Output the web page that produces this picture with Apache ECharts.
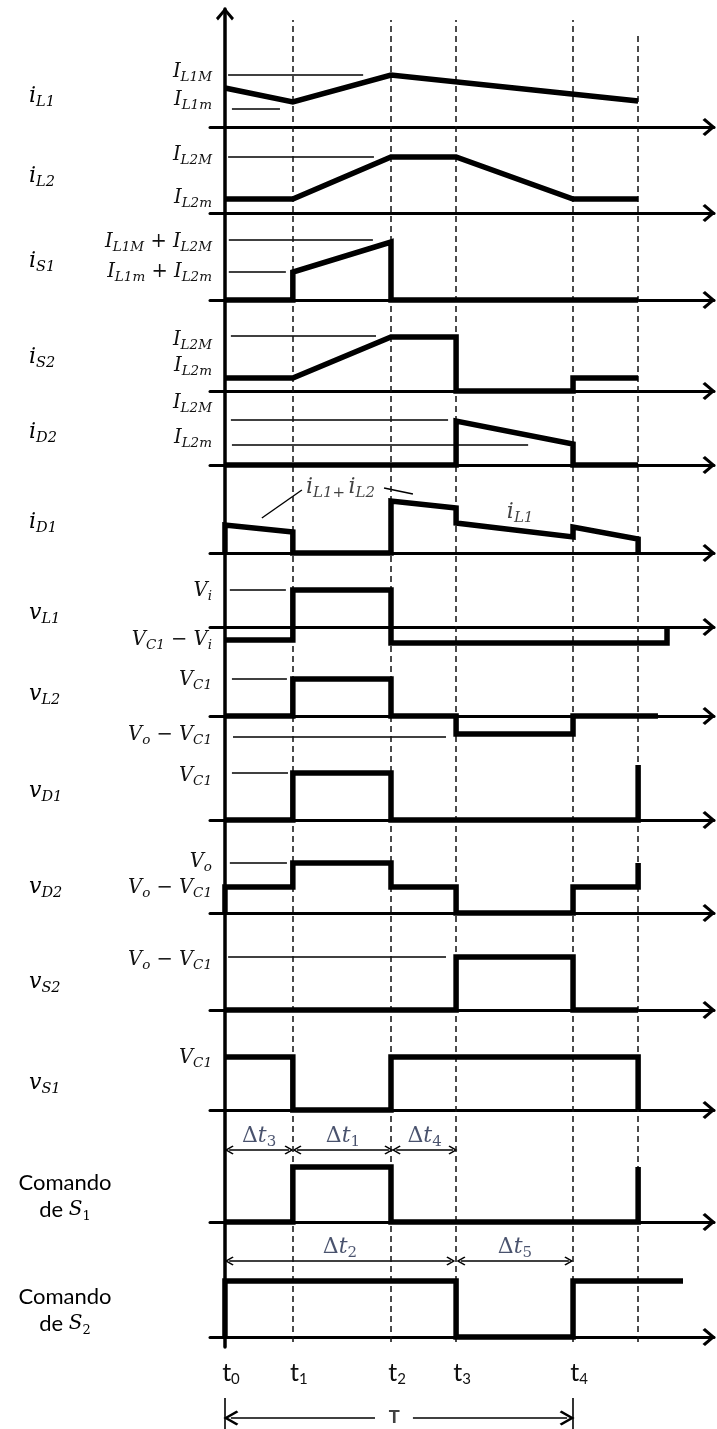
<!DOCTYPE html>
<html><head><meta charset="utf-8">
<script src="https://cdn.jsdelivr.net/npm/echarts@6/dist/echarts.min.js"></script>
<style>html,body{margin:0;padding:0;background:#fff}#c{width:717px;height:1429px}</style>
</head><body><div id="c"></div>
<script>
// ---------------- DATA ----------------
// time instants (arbitrary units, period T = t4 - t0 = 10)
const t0 = 0, t1 = 1.95, t2 = 4.77, t3 = 6.64, t4 = 10, t5 = 11.87;
const timeTicks = [t0, t1, t2, t3, t4];
const timeTickLabels = ['{t|t}{n|0}', '{t|t}{n|1}', '{t|t}{n|2}', '{t|t}{n|3}', '{t|t}{n|4}'];
const dashTimes = [t1, t2, t3, t4, t5];

// waveforms: [time, level]
const iL1 = [[t0, 39], [t1, 25], [t2, 52], [t5, 26]];
const iL2 = [[t0, 14], [t1, 14], [t2, 56], [t3, 56], [t4, 14], [t5, 14]];
const iS1 = [[t0, 0], [t1, 0], [t1, 28], [t2, 58], [t2, 0], [t5, 0]];
const iS2 = [[t0, 13], [t1, 13], [t2, 54], [t3, 54], [t3, 0], [t4, 0], [t4, 13], [t5, 13]];
const iD2 = [[t0, 0], [t3, 0], [t3, 44], [t4, 21], [t4, 0], [t5, 0]];
const iD1 = [[t0, 0], [t0, 28], [t1, 21], [t1, 0], [t2, 0], [t2, 52], [t3, 45], [t3, 30], [t4, 16], [t4, 26], [t5, 14], [t5, 0]];
const vL1 = [[t0, -13], [t1, -13], [t1, 37], [t2, 37], [t2, -16], [12.70, -16], [12.70, 0]];
const vL2 = [[t0, 0], [t1, 0], [t1, 37], [t2, 37], [t2, 0], [t3, 0], [t3, -18], [t4, -18], [t4, 0], [12.44, 0]];
const vD1 = [[t0, 0], [t1, 0], [t1, 47], [t2, 47], [t2, 0], [t5, 0], [t5, 55]];
const vD2 = [[t0, 0], [t0, 26], [t1, 26], [t1, 50], [t2, 50], [t2, 26], [t3, 26], [t3, 0], [t4, 0], [t4, 26], [t5, 26], [t5, 50]];
const vS2 = [[t0, 0], [t3, 0], [t3, 53], [t4, 53], [t4, 0], [t5, 0]];
const vS1 = [[t0, 53], [t1, 53], [t1, 0], [t2, 0], [t2, 53], [t5, 53], [t5, 0]];
const cmdS1 = [[t0, 0], [t1, 0], [t1, 55], [t2, 55], [t2, 0], [t5, 0], [t5, 55]];
const cmdS2 = [[t0, 0], [t0, 56], [t3, 56], [t3, 0], [t4, 0], [t4, 56], [13.16, 56]];

// reference level lines: [fromTime, toTime, level]
const iL1Refs = [[0.09, 3.97, 52], [0.2, 1.58, 18]];
const iL2Refs = [[0.09, 4.28, 56]];
const iS1Refs = [[0.11, 4.25, 60], [0.11, 1.75, 28]];
const iS2Refs = [[0.17, 4.34, 55]];
const iD2Refs = [[0.17, 6.41, 45], [0.2, 8.71, 20]];
const vL1Refs = [[0.14, 1.75, 37]];
const vL2Refs = [[0.2, 1.78, 37], [0.23, 6.35, -21]];
const vD1Refs = [[0.2, 1.81, 47]];
const vD2Refs = [[0.14, 1.78, 50]];
const vS2Refs = [[0.09, 6.35, 53]];

// level tick labels
const iL1Ticks = [55, 27], iL1TickText = ['{v|I}{s|L1M}', '{v|I}{s|L1m}'];
const iL2Ticks = [58, 15], iL2TickText = ['{v|I}{s|L2M}', '{v|I}{s|L2m}'];
const iS1Ticks = [58, 28], iS1TickText = ['{v|I}{s|L1M}{o| + }{v|I}{s|L2M}', '{v|I}{s|L1m}{o| + }{v|I}{s|L2m}'];
const iS2Ticks = [51, 25], iS2TickText = ['{v|I}{s|L2M}', '{v|I}{s|L2m}'];
const iD2Ticks = [62, 27], iD2TickText = ['{v|I}{s|L2M}', '{v|I}{s|L2m}'];
const vL1Ticks = [36, -13], vL1TickText = ['{v|V}{s|i}', '{v|V}{s|C1}{o| − }{v|V}{s|i}'];
const vL2Ticks = [36, -19], vL2TickText = ['{v|V}{s|C1}', '{v|V}{s|o}{o| − }{v|V}{s|C1}'];
const vD1Ticks = [44], vD1TickText = ['{v|V}{s|C1}'];
const vD2Ticks = [51, 25], vD2TickText = ['{v|V}{s|o}', '{v|V}{s|o}{o| − }{v|V}{s|C1}'];
const vS2Ticks = [50], vS2TickText = ['{v|V}{s|o}{o| − }{v|V}{s|C1}'];
const vS1Ticks = [52], vS1TickText = ['{v|V}{s|C1}'];

// interval dimension arrows: [from, to, level]
const cmdS1Dims = [[0.12, 1.84, 72], [2.07, 4.71, 72], [4.92, 6.55, 72]];
const cmdS1DimText = ['{d|Δ}{v|t}{s|3}', '{d|Δ}{v|t}{s|1}', '{d|Δ}{v|t}{s|4}'];
const cmdS2Dims = [[0.12, 6.49, 76], [6.78, 9.88, 76]];
const cmdS2DimText = ['{d|Δ}{v|t}{s|2}', '{d|Δ}{v|t}{s|5}'];

const rowNames = ['{v|i}{s|L1}', '{v|i}{s|L2}', '{v|i}{s|S1}', '{v|i}{s|S2}', '{v|i}{s|D2}', '{v|i}{s|D1}',
  '{v|v}{s|L1}', '{v|v}{s|L2}', '{v|v}{s|D1}', '{v|v}{s|D2}', '{v|v}{s|S2}', '{v|v}{s|S1}',
  '{c|Comando}\n{c|de }{w|S}{n|1}', '{c|Comando}\n{c|de }{w|S}{n|2}'];
const iD1Notes = ['{v|i}{s|L1+} {v|i}{s|L2}', '{v|i}{s|L1}'];

// ---------------- LAYOUT / STYLE ----------------
const SERIF = '"DejaVu Serif", "Liberation Serif", serif';
const SANS = 'Lato, "Liberation Sans", sans-serif';
const INK = '#111';
const NAVY = '#1c2748';
function mathRich(main, sub, color) {
  return {
    v: { fontFamily: SERIF, fontStyle: 'italic', fontSize: main, color: color, lineHeight: main + 6, verticalAlign: 'middle' },
    s: { fontFamily: SERIF, fontStyle: 'italic', fontSize: sub, color: color, lineHeight: sub + 3, verticalAlign: 'bottom' },
    o: { fontFamily: SERIF, fontSize: main, color: color, lineHeight: main + 6, verticalAlign: 'middle' },
    d: { fontFamily: SERIF, fontSize: main, color: color, lineHeight: main + 6, verticalAlign: 'middle' },
    c: { fontFamily: SANS, fontSize: 22, color: NAVY, lineHeight: 27, verticalAlign: 'middle' },
    w: { fontFamily: SERIF, fontStyle: 'italic', fontSize: 20, color: NAVY, lineHeight: 27, verticalAlign: 'middle' },
    n: { fontFamily: SERIF, fontSize: 13, color: NAVY, lineHeight: 16, verticalAlign: 'bottom' }
  };
}
const richMath = mathRich(19.5, 13.5, INK);
const richName = mathRich(22, 14.5, INK);
const richNote = mathRich(22, 15, INK);
const richDim = mathRich(22, 15, NAVY);
richDim.s.fontStyle = 'normal';
const richT = {
  t: { fontFamily: SANS, fontSize: 25, color: INK, lineHeight: 28, verticalAlign: 'middle' },
  n: { fontFamily: SANS, fontSize: 15, color: INK, lineHeight: 17, verticalAlign: 'bottom' }
};

const CHEV = 'path://M9,0L18,10.5L16,13L9,4.6L2,13L0,10.5Z';
const HEAD = 'path://M5,0L10,7L8.9,8L5,2.6L1.1,8L0,7Z';
const XMIN = -0.43, XMAX = 14.05;
const GL = 210, GR = 3;

const rows = [
  { data: iL1, base: 127, ticks: iL1Ticks, text: iL1TickText, refs: iL1Refs, nameY: 96 },
  { data: iL2, base: 213, ticks: iL2Ticks, text: iL2TickText, refs: iL2Refs, nameY: 176 },
  { data: iS1, base: 300, ticks: iS1Ticks, text: iS1TickText, refs: iS1Refs, nameY: 261 },
  { data: iS2, base: 391, ticks: iS2Ticks, text: iS2TickText, refs: iS2Refs, nameY: 357 },
  { data: iD2, base: 465, ticks: iD2Ticks, text: iD2TickText, refs: iD2Refs, nameY: 432 },
  { data: iD1, base: 553, nameY: 522, max: 80 },
  { data: vL1, base: 627, ticks: vL1Ticks, text: vL1TickText, refs: vL1Refs, nameY: 613 },
  { data: vL2, base: 716, ticks: vL2Ticks, text: vL2TickText, refs: vL2Refs, nameY: 694, min: -32 },
  { data: vD1, base: 820, ticks: vD1Ticks, text: vD1TickText, refs: vD1Refs, nameY: 791 },
  { data: vD2, base: 913, ticks: vD2Ticks, text: vD2TickText, refs: vD2Refs, nameY: 887 },
  { data: vS2, base: 1010, ticks: vS2Ticks, text: vS2TickText, refs: vS2Refs, nameY: 982 },
  { data: vS1, base: 1110, ticks: vS1Ticks, text: vS1TickText, nameY: 1083 },
  { data: cmdS1, base: 1222, nameY: 1196, dims: cmdS1Dims, dimText: cmdS1DimText, dimLabelY: 86, max: 100, center: true },
  { data: cmdS2, base: 1337, nameY: 1310, dims: cmdS2Dims, dimText: cmdS2DimText, dimLabelY: 90, max: 100, center: true }
];

const grid = [], xAxis = [], yAxis = [], series = [], graphic = [];
const lineBase = { symbol: 'none', animation: false, silent: true };

rows.forEach((r, i) => {
  const max = r.max || 70, min = r.min || -28;
  grid.push({ left: GL, right: GR, top: r.base - max, height: max - min, outerBoundsMode: 'none' });
  xAxis.push({
    gridIndex: i, type: 'value', min: XMIN, max: XMAX,
    axisLine: { show: true, onZero: true, symbol: ['none', CHEV], symbolSize: [18, 13], symbolOffset: [0, -5],
      lineStyle: { color: '#000', width: 3 } },
    axisTick: { show: false }, axisLabel: { show: false }, splitLine: { show: false }
  });
  yAxis.push({
    gridIndex: i, type: 'value', min: min, max: max,
    axisLine: { show: false, onZero: true }, axisTick: { show: false }, splitLine: { show: false },
    axisLabel: r.ticks ? {
      show: true, customValues: r.ticks, margin: -2, rich: richMath,
      formatter: (v) => { const k = r.ticks.findIndex(x => Math.abs(x - v) < 1e-6); return k >= 0 ? r.text[k] : ''; }
    } : { show: false }
  });
  const markData = [];
  (r.refs || []).forEach(f => markData.push([{ coord: [f[0], f[2]] }, { coord: [f[1], f[2]] }]));
  series.push(Object.assign({}, lineBase, {
    type: 'line', xAxisIndex: i, yAxisIndex: i, data: r.data, z: 5,
    lineStyle: { color: '#000', width: 5.5, cap: 'butt', join: 'miter' },
    markLine: { silent: true, animation: false, symbol: ['none', 'none'], label: { show: false },
      lineStyle: { type: 'solid', color: '#000', width: 1.6 }, data: markData }
  }));
  if (r.dims) {
    series.push({
      type: 'line', xAxisIndex: i, yAxisIndex: i, data: [], animation: false, silent: true,
      markLine: { silent: true, animation: false, symbol: [HEAD, HEAD], symbolSize: [9, 9], label: { show: false },
        lineStyle: { type: 'solid', color: '#000', width: 1.5 },
        data: r.dims.map(f => [{ coord: [f[0], f[2]] }, { coord: [f[1], f[2]] }]) }
    });
    series.push({
      type: 'scatter', xAxisIndex: i, yAxisIndex: i, symbolSize: 0, animation: false, silent: true,
      data: r.dims.map(f => [(f[0] + f[1]) / 2, r.dimLabelY]),
      label: { show: true, position: 'inside', rich: richDim, formatter: (p) => r.dimText[p.dataIndex] }
    });
  }
  graphic.push({
    type: 'text', x: r.center ? 65 : 29, y: r.nameY, silent: true,
    style: { text: rowNames[i], rich: richName, align: r.center ? 'center' : 'left', textAlign: r.center ? 'center' : 'left',
      verticalAlign: 'middle', textVerticalAlign: 'middle' }
  });
});

// annotations on the i_D1 row
const d1 = 5;
series.push({
  type: 'scatter', xAxisIndex: d1, yAxisIndex: d1, symbolSize: 0, animation: false, silent: true,
  data: [[3.32, 66], [8.48, 41]],
  label: { show: true, position: 'inside', rich: richNote, formatter: (p) => iD1Notes[p.dataIndex] }
});
series.push({
  type: 'line', xAxisIndex: d1, yAxisIndex: d1, data: [], animation: false, silent: true,
  markLine: { silent: true, animation: false, symbol: ['none', 'none'], label: { show: false },
    lineStyle: { type: 'solid', color: '#000', width: 1.4 },
    data: [[{ coord: [1.06, 35] }, { coord: [2.21, 63] }], [{ coord: [4.57, 65] }, { coord: [5.40, 59] }]] }
});

// full-height frame: vertical axis, dashed instants, time labels
const F = rows.length;
grid.push({ left: GL, right: GR, top: 9, bottom: 82, outerBoundsMode: 'none' });
xAxis.push({
  gridIndex: F, type: 'value', min: XMIN, max: XMAX,
  axisLine: { show: false, onZero: true }, axisTick: { show: false }, splitLine: { show: false },
  axisLabel: { show: true, customValues: timeTicks, margin: 12, rich: richT, padding: [0, 0, 0, 12],
    formatter: (v) => { const k = timeTicks.findIndex(x => Math.abs(x - v) < 1e-6); return k >= 0 ? timeTickLabels[k] : ''; } }
});
yAxis.push({
  gridIndex: F, type: 'value', min: 0, max: 1338,
  axisLine: { show: true, onZero: true, symbol: ['none', CHEV], symbolSize: [18, 13], symbolOffset: [0, -5],
    lineStyle: { color: '#000', width: 3.5 } },
  axisTick: { show: false }, axisLabel: { show: false }, splitLine: { show: false }
});
series.push({
  type: 'line', xAxisIndex: F, yAxisIndex: F, data: [], z: 1, animation: false, silent: true,
  markLine: { silent: true, animation: false, symbol: ['none', 'none'], label: { show: false },
    lineStyle: { type: [6, 4], color: '#111', width: 1.5 },
    data: dashTimes.map((t, k) => [{ coord: [t, 5] }, { coord: [t, k === 4 ? 1314 : 1327] }]) }
});

// period arrow T
const P = F + 1;
grid.push({ left: GL, right: GR, top: 1395, height: 34, outerBoundsMode: 'none' });
xAxis.push({ gridIndex: P, type: 'value', min: XMIN, max: XMAX, show: false });
yAxis.push({ gridIndex: P, type: 'value', min: 0, max: 34, show: false });
series.push({
  type: 'line', xAxisIndex: P, yAxisIndex: P, data: [], animation: false, silent: true,
  markLine: { silent: true, animation: false, symbol: ['none', 'none'], label: { show: false },
    lineStyle: { type: 'solid', color: '#000', width: 1.6 },
    data: [
      [{ coord: [t0 + 0.17, 11], symbol: HEAD, symbolSize: [15, 15] }, { coord: [4.31, 11] }],
      [{ coord: [5.40, 11] }, { coord: [t4 - 0.17, 11], symbol: HEAD, symbolSize: [15, 15] }],
      [{ coord: [t0, 0] }, { coord: [t0, 31] }],
      [{ coord: [t4, 0] }, { coord: [t4, 31] }]
    ] }
});
series.push({
  type: 'scatter', xAxisIndex: P, yAxisIndex: P, symbolSize: 0, animation: false, silent: true,
  data: [[4.86, 11]],
  label: { show: true, position: 'inside', formatter: 'T', fontFamily: '"Liberation Sans", sans-serif',
    fontWeight: 'bold', fontSize: 18, color: INK }
});

const chart = echarts.init(document.getElementById('c'), null, { renderer: 'canvas' });
chart.setOption({ animation: false, backgroundColor: '#fff', grid, xAxis, yAxis, series, graphic });
</script></body></html>
